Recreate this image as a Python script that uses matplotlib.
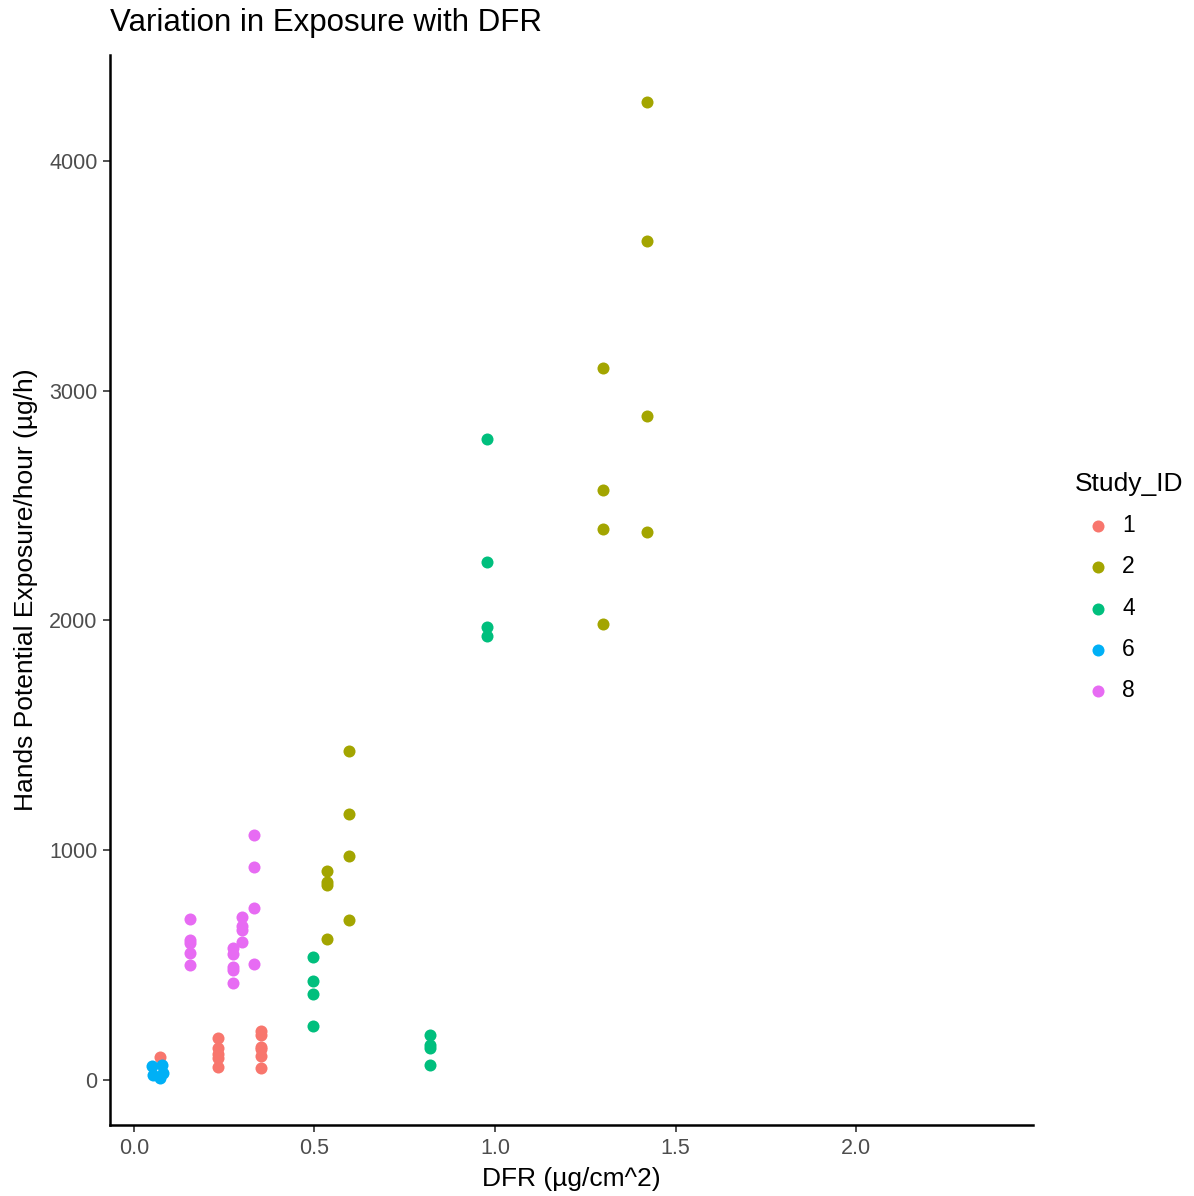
import numpy as np
import matplotlib.pyplot as plt

plt.rcParams['font.family'] = ['Liberation Sans', 'DejaVu Sans']

# DFR (ug/cm^2) and hands exposure per hour (ug/h), by study
study_ids = ['1', '2', '4', '6', '8']
colors = ['#F8766D', '#A3A500', '#00BF7D', '#00B0F6', '#E76BF3']

dfr_1 = [0.072, 0.234, 0.234, 0.234, 0.234, 0.234,
         0.353, 0.353, 0.353, 0.353, 0.353, 0.353]
exp_1 = [101, 184, 138, 115, 95, 55,
         213, 196, 145, 134, 104, 54]

dfr_2 = [0.535, 0.535, 0.535, 0.535,
         0.597, 0.597, 0.597, 0.597,
         1.299, 1.299, 1.299, 1.299,
         1.420, 1.420, 1.420, 1.420]
exp_2 = [910, 860, 849, 612,
         1432, 1156, 976, 696,
         3099, 2569, 2400, 1984,
         4255, 3650, 2890, 2383]

dfr_4 = [0.497, 0.497, 0.497, 0.497,
         0.819, 0.819, 0.819, 0.819,
         0.979, 0.979, 0.979, 0.979]
exp_4 = [537, 432, 376, 235,
         196, 152, 138, 65,
         2790, 2256, 1972, 1931]

dfr_6 = [0.049, 0.078, 0.080, 0.054, 0.072]
exp_6 = [61, 65, 29, 22, 8]

dfr_8 = [0.155, 0.155, 0.155, 0.155, 0.155,
         0.275, 0.275, 0.275, 0.275, 0.275,
         0.299, 0.299, 0.299, 0.299,
         0.333, 0.333, 0.333, 0.333]
exp_8 = [699, 609, 595, 551, 500,
         573, 547, 493, 480, 421,
         711, 670, 653, 602,
         1068, 926, 747, 505]

dfr = [dfr_1, dfr_2, dfr_4, dfr_6, dfr_8]
exposure = [exp_1, exp_2, exp_4, exp_6, exp_8]

fig = plt.figure(figsize=(11.94, 11.96), dpi=100)
ax = fig.add_axes([110 / 1194, 71 / 1196, 923 / 1194, 1070 / 1196])

handles = []
for sid, col, xs, ys in zip(study_ids, colors, dfr, exposure):
	h = ax.scatter(xs, ys, s=75, color=col, linewidths=0, label=sid)
	handles.append(h)

ax.set_xlim(-0.066, 2.49)
ax.set_ylim(-196, 4461)
ax.set_xticks([0.0, 0.5, 1.0, 1.5, 2.0])
ax.set_xticklabels(['0.0', '0.5', '1.0', '1.5', '2.0'])
ax.set_yticks([0, 1000, 2000, 3000, 4000])

for side in ['top', 'right']:
	ax.spines[side].set_visible(False)
for side in ['left', 'bottom']:
	ax.spines[side].set_linewidth(1.8)
	ax.spines[side].set_color('black')
ax.tick_params(axis='both', labelsize=15.5, labelcolor='#4D4D4D',
               color='#333333', length=5, width=1.2, pad=4)

ax.set_xlabel('DFR (\u00b5g/cm^2)', fontsize=19, labelpad=6)
ax.set_ylabel('Hands Potential Exposure/hour (\u00b5g/h)', fontsize=19, labelpad=8)
fig.text(110 / 1194, 1 - 23 / 1196, 'Variation in Exposure with DFR',
         fontsize=22.5, ha='left', va='center')

leg = fig.legend(handles=handles, title='Study_ID', loc='upper left',
                 bbox_to_anchor=(1054 / 1194, 1 - 451 / 1196), frameon=False,
                 fontsize=16.5, title_fontsize=19, labelspacing=0.8,
                 handletextpad=0.08, markerscale=1.0)
leg._legend_box.align = 'left'

fig.savefig('out.png', dpi=100)
